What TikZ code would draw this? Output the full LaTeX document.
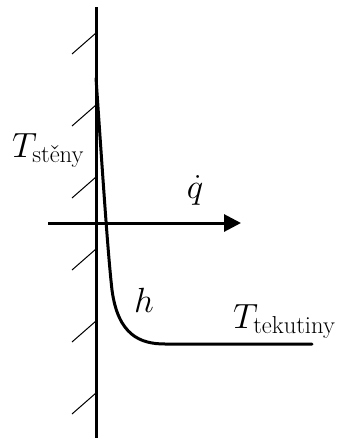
\RequirePackage{fix-cm}
\documentclass[tikz,border=0pt]{standalone}
\usepackage{amsmath}
\usetikzlibrary{arrows.meta,positioning}

\begin{document}
\begin{tikzpicture}[x=1pt,y=-1pt,font=\fontsize{35}{42}\selectfont,
  wall/.style={line width=3pt},hatch/.style={line width=1pt},
  prof/.style={line width=3pt,line cap=round,line join=round}]
\useasboundingbox (0,0) rectangle (344,439);
\coordinate (wt) at (96,7);
\coordinate (wb) at (96,438);
\draw[wall] (wt)--(wb);
\foreach \y in {33,105,...,393} \draw[hatch] (96,\y)--(72,\y+21);
% teplotni profil
\coordinate (p0) at (96,78);
\coordinate (p1) at (112,290);
\coordinate (p2) at (165,344);
\coordinate (p3) at (312,344);
\draw[prof] (p0) .. controls (103,180) and (108,255) .. (p1)
  .. controls (118,335) and (140,344) .. (p2) -- (p3);
% tok tepla
\coordinate (qa) at (48,223);
\coordinate (qb) at (241,223);
\draw[line width=3pt,-{Triangle[length=17pt,width=17pt]}] (qa)--(qb);
\node[anchor=base west,inner sep=0] (ts) at (12,157) {$T_{\text{stěny}}$};
\node[anchor=base west,inner sep=0] (tt) at (233,328) {$T_{\text{tekutiny}}$};
\node[anchor=base,inner sep=0] (q) at (195,198) {$\dot q$};
\node[anchor=base,inner sep=0] (h) at (144,312) {$h$};
\end{tikzpicture}
\end{document}
